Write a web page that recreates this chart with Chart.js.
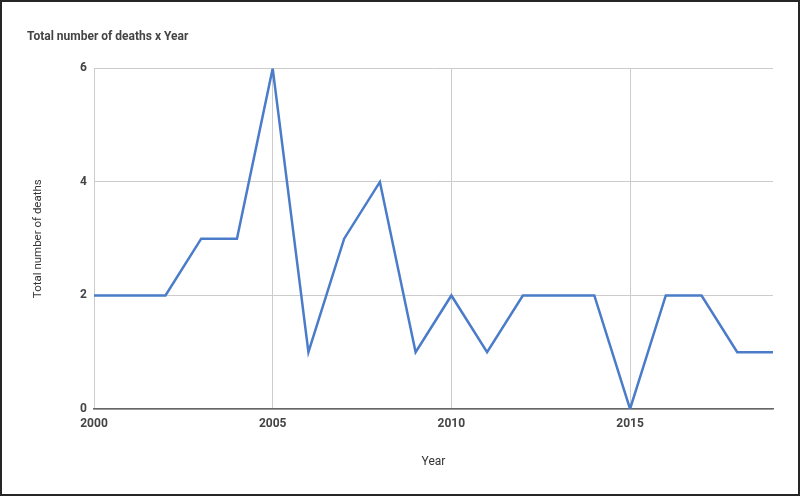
<!DOCTYPE html>
<html>
<head>
<meta charset="utf-8">
<script src="https://cdn.jsdelivr.net/npm/chart.js@4"></script>
<style>
  html, body { margin: 0; padding: 0; background: #fff; }
  #wrap { width: 800px; height: 496px; box-sizing: border-box; border: 2px solid #262626; }
  canvas { display: block; }
</style>
</head>
<body>
<div id="wrap"><canvas id="chart" width="796" height="492"></canvas></div>
<script>
const years = [2000, 2001, 2002, 2003, 2004, 2005, 2006, 2007, 2008, 2009,
               2010, 2011, 2012, 2013, 2014, 2015, 2016, 2017, 2018, 2019];
const deaths = [2, 2, 2, 3, 3, 6, 1, 3, 4, 1,
                2, 1, 2, 2, 2, 0, 2, 2, 1, 1];
const yTicks = [0, 2, 4, 6];
const xTicks = [2000, 2005, 2010, 2015];

const tickFont = { family: "Roboto", size: 12, weight: "bold" };

const ctx = document.getElementById("chart").getContext("2d");

new Chart(ctx, {
  type: "line",
  data: {
    datasets: [{
      label: "Total number of deaths",
      data: years.map((y, i) => ({ x: y, y: deaths[i] })),
      borderColor: "#4a7cc9",
      borderWidth: 2.5,
      pointRadius: 0,
      tension: 0,
      fill: false
    }]
  },
  options: {
    responsive: false,
    animation: false,
    layout: { padding: { left: 25, right: 25, top: 0, bottom: 0 } },
    plugins: {
      legend: { display: false },
      tooltip: { enabled: false },
      title: {
        display: true,
        text: "Total number of deaths x Year",
        align: "start",
        color: "#444",
        font: { family: "Roboto", size: 12, weight: "bold" },
        padding: { top: 28, bottom: 24 }
      }
    },
    scales: {
      x: {
        type: "linear",
        min: 2000,
        max: 2019,
        afterBuildTicks: s => { s.ticks = xTicks.map(v => ({ value: v })); },
        afterFit: s => { s.height = 85; },
        grid: { drawTicks: false, color: "#cccccc", lineWidth: 1 },
        border: { display: true, color: "#666", width: 1.5 },
        ticks: {
          padding: 8,
          color: "#444",
          font: tickFont,
          callback: v => String(v)
        },
        title: {
          display: true,
          text: "Year",
          color: "#333",
          font: { family: "Roboto", size: 12 },
          padding: { top: 0, bottom: 25 }
        }
      },
      y: {
        min: 0,
        max: 6,
        afterBuildTicks: s => { s.ticks = yTicks.map(v => ({ value: v })); },
        afterFit: s => { s.width = 67; },
        grid: { drawTicks: false, color: "#cccccc", lineWidth: 1 },
        border: { display: false },
        ticks: {
          padding: 7,
          color: "#444",
          font: tickFont
        },
        title: {
          display: true,
          text: "Total number of deaths",
          color: "#333",
          font: { family: "Roboto", size: 11.5 },
          padding: { top: 4, bottom: 0 }
        }
      }
    }
  }
});
</script>
</body>
</html>
